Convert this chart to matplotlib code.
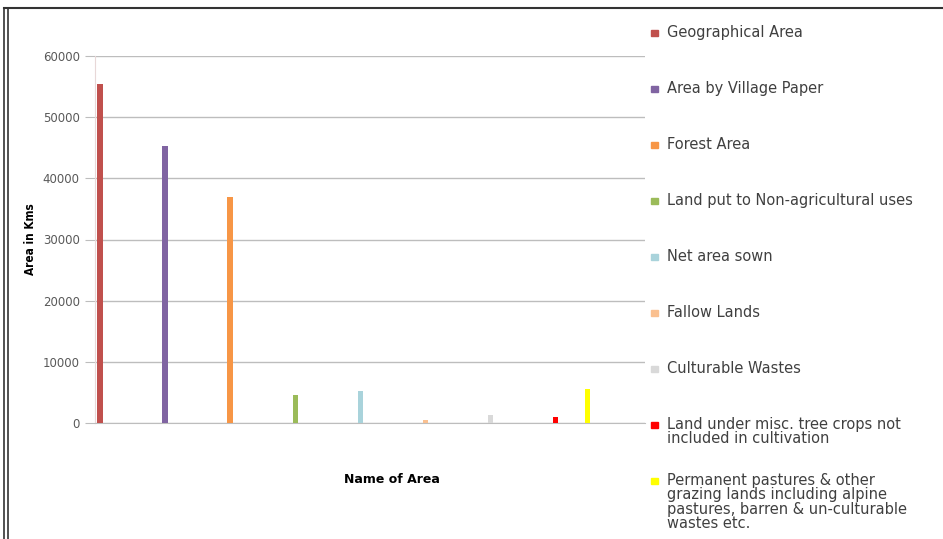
import matplotlib.pyplot as plt
from matplotlib.patches import Rectangle
from matplotlib.lines import Line2D

labels = ['Geographical Area', 'Area by Village Paper', 'Forest Area',
          'Land put to Non-agricultural uses', 'Net area sown', 'Fallow Lands',
          'Culturable Wastes',
          'Land under misc. tree crops not\nincluded in cultivation',
          'Permanent pastures & other\ngrazing lands including alpine\npastures, barren & un-culturable\nwastes etc.']
values = [55500, 45300, 37000, 4600, 5200, 500, 1300, 900, 5600]
positions = [0, 1, 2, 3, 4, 5, 6, 7, 7.5]
colors = ['#C0504D', '#8064A2', '#F79646', '#9BBB59', '#A9D3DB', '#FAC090',
          '#D9D9D9', '#FF0000', '#FFFF00']
yticks = [0, 10000, 20000, 30000, 40000, 50000, 60000]

fig = plt.figure(figsize=(9.43, 5.39), dpi=100)
ax = fig.add_axes([95 / 943, 116 / 539, 550 / 943, 367 / 539])

ax.bar(positions, values, width=0.08, color=colors, zorder=3)

ax.set_xlim(-0.077, 8.38)
ax.set_ylim(0, 60000)
ax.set_yticks(yticks)
ax.set_yticklabels([str(v) for v in yticks])
ax.set_xticks([])
ax.grid(axis='y', color='#BDBDBD', linewidth=1, zorder=0)
ax.tick_params(axis='y', length=7, color='#BDBDBD', labelcolor='#595959',
               labelsize=8.5, pad=4)
for s in ['top', 'right']:
    ax.spines[s].set_visible(False)
ax.spines['left'].set_color('#E8D8D8')
ax.spines['bottom'].set_color('#BDBDBD')

ax.set_ylabel('Area in Kms', fontsize=8.5, fontweight='bold', fontstretch='condensed')
ax.yaxis.set_label_coords(-0.106, 0.5)
ax.set_xlabel('Name of Area', fontsize=9, fontweight='bold')
ax.xaxis.set_label_coords(0.54, -0.135)

# legend drawn by hand so the entries sit at even steps
for i, (lab, col) in enumerate(zip(labels, colors)):
    y = 1 - (33 + 56 * i) / 539
    fig.patches.append(Rectangle((651 / 943, y - 3 / 539), 7 / 943, 6 / 539,
                                 color=col, transform=fig.transFigure))
    fig.text(667 / 943, y + 8 / 539, lab, fontsize=10.5, color='#404040',
             va='top', ha='left', linespacing=0.95)

# outer frame
fig.add_artist(Line2D([4 / 943, 4 / 943], [0, 1 - 8 / 539], color='#333333', lw=1.2))
fig.add_artist(Line2D([8 / 943, 8 / 943], [0, 1 - 8 / 539], color='#333333', lw=1.2))
fig.add_artist(Line2D([4 / 943, 1], [1 - 8 / 539, 1 - 8 / 539], color='#333333', lw=1.5))

fig.savefig('out.png', dpi=100)
